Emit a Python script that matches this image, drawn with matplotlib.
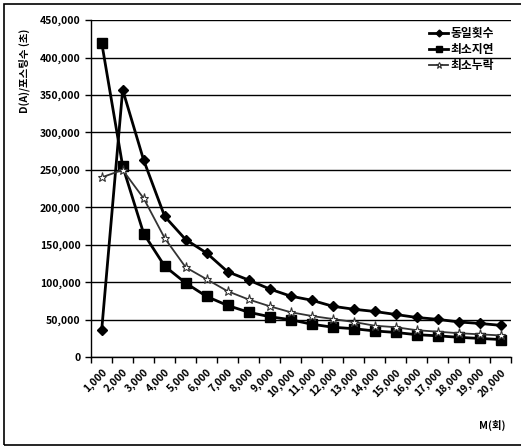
import numpy as np
import matplotlib.pyplot as plt
from matplotlib.patches import Rectangle
from matplotlib.ticker import FuncFormatter

plt.rcParams['font.family'] = ['Noto Sans CJK KR', 'DejaVu Sans']

m_values = [1000, 2000, 3000, 4000, 5000, 6000, 7000, 8000, 9000, 10000,
            11000, 12000, 13000, 14000, 15000, 16000, 17000, 18000, 19000, 20000]
same_count = [36000, 357000, 263000, 188000, 157000, 139000, 114000, 103000, 91000, 81500,
              76000, 68000, 64000, 61000, 57000, 53000, 50500, 47000, 45000, 42500]
min_delay = [420000, 255000, 165000, 121500, 99000, 81000, 69000, 60000, 54000, 50000,
             44000, 40000, 38000, 35000, 33000, 30000, 28500, 26500, 25000, 23500]
min_miss = [240000, 250000, 212000, 159000, 120000, 104000, 88000, 77000, 68000, 60000,
            55000, 51000, 47000, 42000, 40000, 36000, 34000, 32000, 30500, 29000]

fig = plt.figure(figsize=(5.21, 4.47), dpi=100)
ax = fig.add_axes([0.175, 0.201, 0.806, 0.754])

x = np.arange(len(m_values))
ax.plot(x, same_count, color='black', lw=2, marker='D', ms=5, label='동일횟수')
ax.plot(x, min_delay, color='black', lw=2, marker='s', ms=7, label='최소지연')
ax.plot(x, min_miss, color='#333333', lw=1.3, marker='*', ms=6.5,
        mfc='white', mec='#333333', mew=0.8, label='최소누락')

ax.set_xlim(-0.5, len(m_values) - 0.5)
ax.set_ylim(0, 450000)
ax.set_yticks(np.arange(0, 450001, 50000))
ax.yaxis.set_major_formatter(FuncFormatter(lambda v, p: f'{int(v):,}'))
ax.yaxis.grid(True, color='black', lw=1)
ax.set_axisbelow(True)

# category boundaries carry the tick marks, labels sit at the centres
ax.set_xticks(np.arange(-0.5, len(m_values), 1.0))
ax.set_xticklabels([])
ax.set_xticks(x, minor=True)
ax.set_xticklabels([f'{v:,}' for v in m_values], minor=True, rotation=45,
                   ha='right', va='top', rotation_mode='anchor')
ax.tick_params(axis='x', which='minor', length=0, pad=7)
ax.tick_params(axis='x', which='major', length=4, width=1)
ax.tick_params(axis='y', length=4, width=1)
for lbl in ax.get_xticklabels(minor=True) + ax.get_yticklabels():
    lbl.set_fontsize(7.5)
    lbl.set_fontweight('bold')

for s in ['top', 'right']:
    ax.spines[s].set_visible(False)
ax.spines['left'].set_linewidth(1)
ax.spines['bottom'].set_linewidth(1)

ax.set_ylabel('D(A)/포스팅수 (초)', fontsize=7.5, fontweight='bold', loc='top')
ax.yaxis.set_label_coords(-0.145, 0.975)
fig.text(0.97, 0.04, 'M(회)', fontsize=7.5, fontweight='bold', ha='right')

leg = ax.legend(loc='upper right', bbox_to_anchor=(0.985, 1.01), frameon=False,
                fontsize=8.5, handlelength=1.6, handletextpad=0.2, labelspacing=0.25,
                markerscale=0.7)
for t in leg.get_texts():
    t.set_fontweight('bold')

fig.patches.append(Rectangle((0.008, 0.004), 1.2, 0.987, transform=fig.transFigure,
                             fill=False, edgecolor='black', lw=1.2))

fig.savefig('out.png')
